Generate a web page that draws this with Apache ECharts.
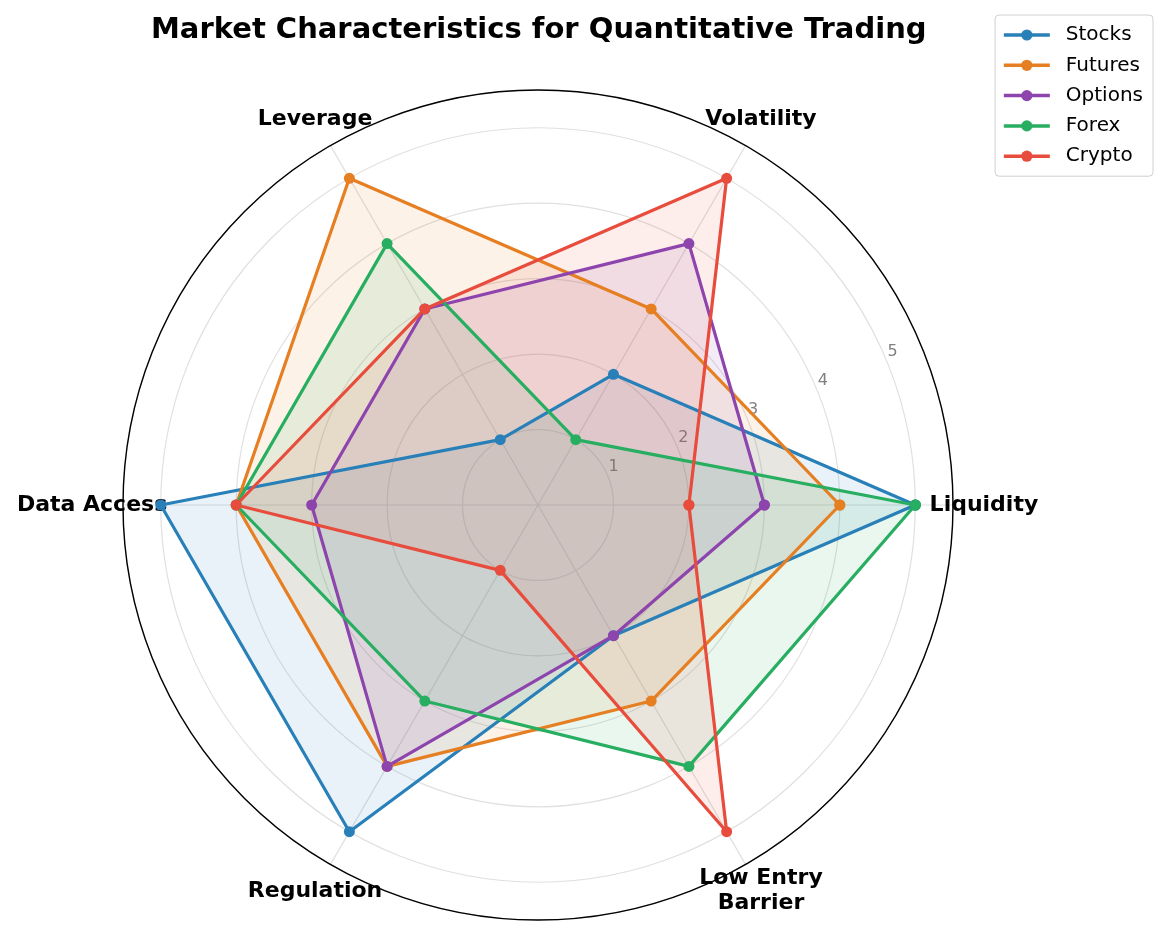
<!DOCTYPE html>
<html>
<head>
<meta charset="utf-8">
<script src="https://cdn.jsdelivr.net/npm/echarts@6/dist/echarts.min.js"></script>
<style>
  html, body { margin: 0; padding: 0; background: #fff; }
  #chart { width: 1168px; height: 937px; }
</style>
</head>
<body>
<div id="chart"></div>
<script>
// data
const categories = ['Liquidity', 'Volatility', 'Leverage', 'Data Access', 'Regulation', 'Low Entry\nBarrier']
const stocks = [5, 2, 1, 5, 5, 2]
const futures = [4, 3, 5, 4, 4, 3]
const optionsMkt = [3, 4, 3, 3, 4, 2]
const forex = [5, 1, 4, 4, 3, 4]
const crypto = [2, 5, 3, 4, 1, 5]
const radialTicks = [1, 2, 3, 4, 5]

const markets = [
  { name: 'Stocks', values: stocks, color: '#2980b9' },
  { name: 'Futures', values: futures, color: '#e67e22' },
  { name: 'Options', values: optionsMkt, color: '#8e44ad' },
  { name: 'Forex', values: forex, color: '#27ae60' },
  { name: 'Crypto', values: crypto, color: '#e74c3c' }
]

const FONT = 'DejaVu Sans'
const R_MAX = 5.5
const LABEL_R = 5.91 // where the category names sit
const TICK_ANGLE = 22.5 // matplotlib's default rlabel angle
const step = 360 / categories.length

function closedRing(values) {
  const pts = values.map((v, i) => [v, i * step])
  pts.push([values[0], 0])
  return pts
}

const chart = echarts.init(document.getElementById('chart'))

const series = markets.map(m => ({
  name: m.name,
  type: 'line',
  coordinateSystem: 'polar',
  data: closedRing(m.values),
  symbol: 'circle',
  symbolSize: 11,
  color: m.color,
  lineStyle: { width: 3.2, color: m.color },
  itemStyle: { color: m.color },
  areaStyle: { color: m.color, opacity: 0.1 },
  z: 3,
  animation: false
}))

// category names around the circle
series.push({
  type: 'scatter',
  coordinateSystem: 'polar',
  silent: true,
  clip: false,
  symbolSize: 1,
  itemStyle: { color: 'rgba(0,0,0,0)', opacity: 1 },
  data: categories.map((c, i) => ({ name: c, value: [LABEL_R, i * step] })),
  label: {
    show: true,
    position: 'inside',
    formatter: p => p.name,
    color: '#000',
    opacity: 1,
    fontFamily: FONT,
    fontWeight: 'bold',
    fontSize: 22,
    lineHeight: 25,
    align: 'center'
  },
  z: 1,
  animation: false
})

// radial tick labels
series.push({
  type: 'scatter',
  coordinateSystem: 'polar',
  silent: true,
  clip: false,
  symbolSize: 1,
  itemStyle: { color: 'rgba(0,0,0,0)', opacity: 1 },
  data: radialTicks.map(t => [t, TICK_ANGLE]),
  label: {
    show: true,
    position: 'inside',
    offset: [6, -9],
    formatter: p => String(p.value[0]),
    color: '#808080',
    opacity: 1,
    fontFamily: FONT,
    fontSize: 16
  },
  z: 2,
  animation: false
})

chart.setOption({
  backgroundColor: '#fff',
  animation: false,
  title: {
    text: 'Market Characteristics for Quantitative Trading',
    left: 151,
    top: 16,
    padding: 0,
    textStyle: { fontFamily: FONT, fontWeight: 'bold', fontSize: 29, color: '#000' }
  },
  legend: {
    data: markets.map(m => m.name),
    orient: 'vertical',
    right: 15,
    top: 15,
    padding: [10, 10, 10, 7],
    itemWidth: 46,
    itemHeight: 14,
    itemGap: 10.3,
    borderColor: '#d0d0d0',
    borderWidth: 1,
    borderRadius: 4,
    lineStyle: { width: 3.5 },
    textStyle: { fontFamily: FONT, fontSize: 20, color: '#000', padding: [0, 0, 0, 11] }
  },
  polar: {
    center: [538, 505],
    radius: [0, 415]
  },
  angleAxis: {
    type: 'value',
    min: 0,
    max: 360,
    interval: step,
    startAngle: 0,
    clockwise: false,
    axisLine: { show: true, lineStyle: { color: '#000', width: 1.4 } },
    axisTick: { show: false },
    axisLabel: { show: false },
    splitLine: { show: true, lineStyle: { color: '#e0e0e0', width: 1.2 } }
  },
  radiusAxis: {
    type: 'value',
    min: 0,
    max: R_MAX,
    interval: 1,
    axisLine: { show: false },
    axisTick: { show: false },
    axisLabel: { show: false },
    splitLine: { show: true, lineStyle: { color: '#e0e0e0', width: 1.2 } }
  },
  series: series
})
</script>
</body>
</html>
